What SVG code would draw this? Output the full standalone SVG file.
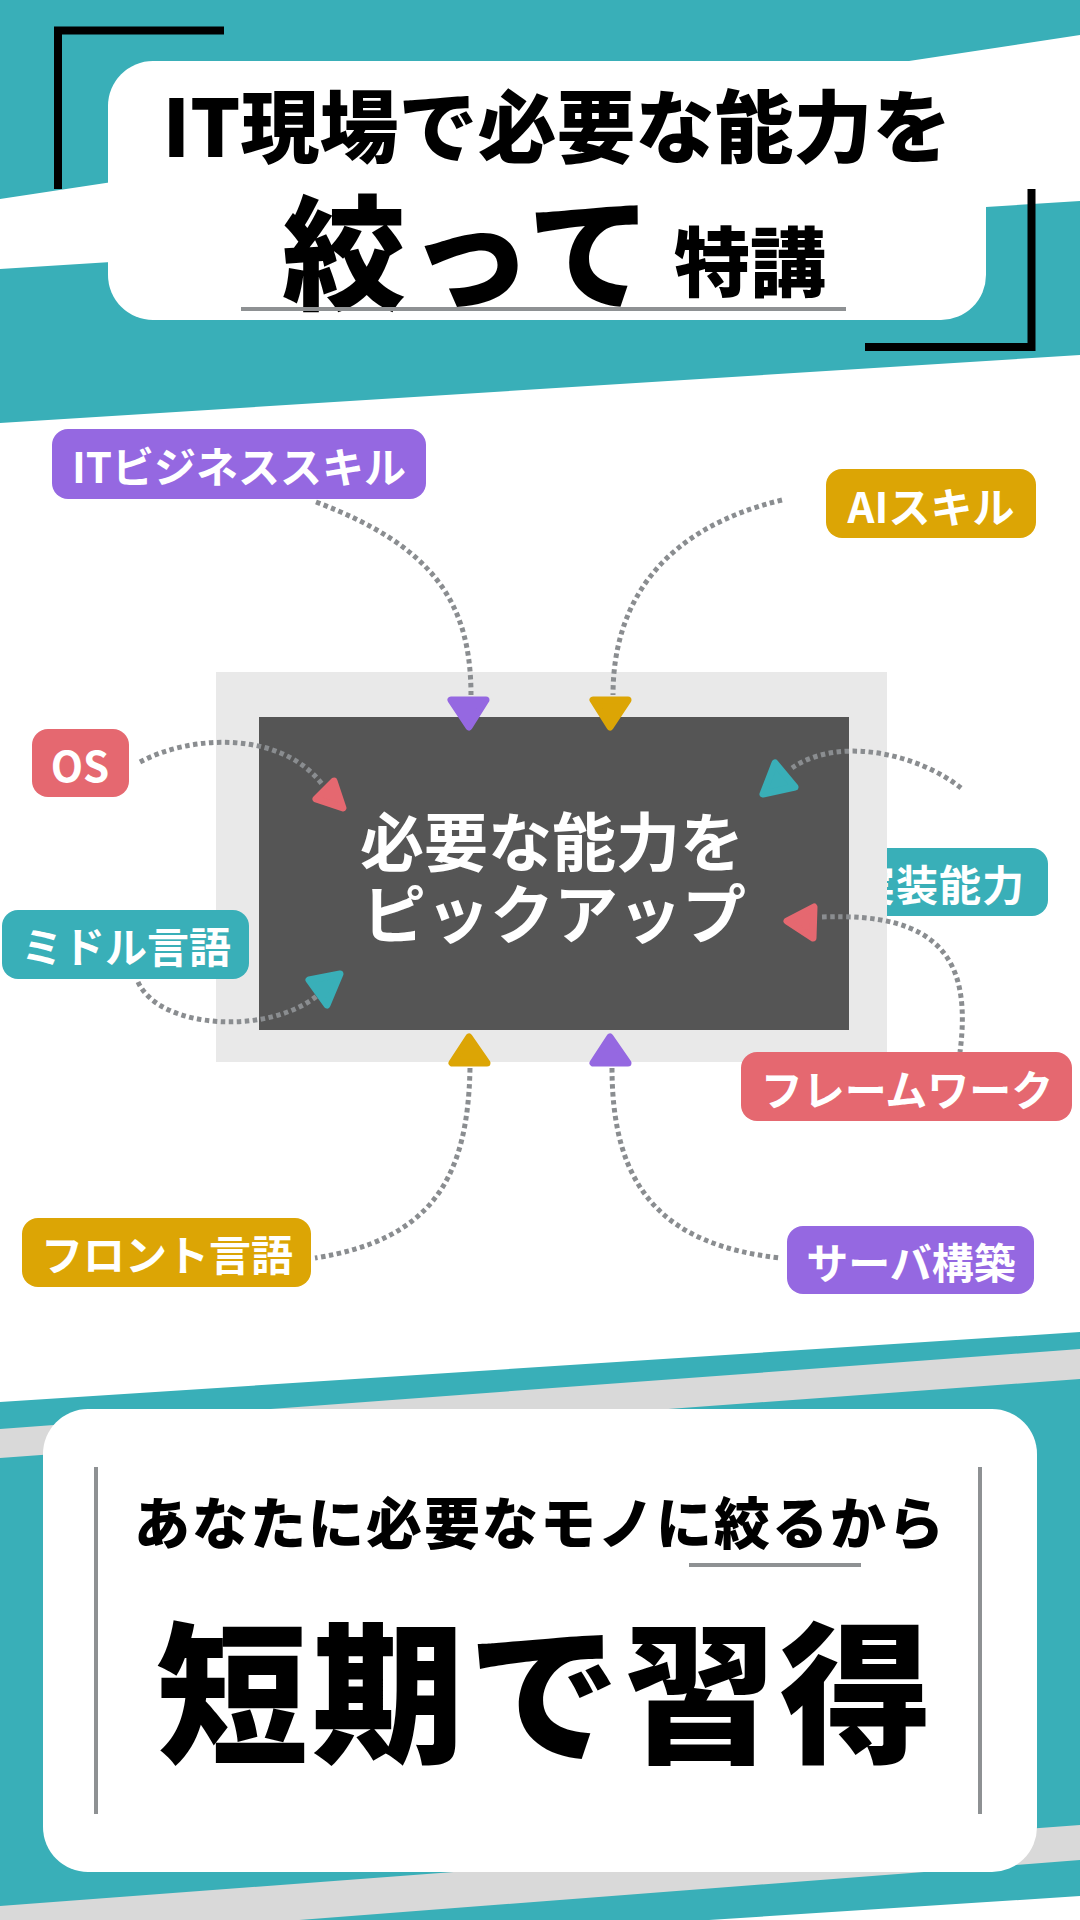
<svg xmlns="http://www.w3.org/2000/svg" width="1080" height="1920" viewBox="0 0 1080 1920">
<defs>
<style>
.teal{fill:#39AFB8}
.gray{fill:#D9D9D9}
.wt{fill:#FFFFFF}
.h{font-family:"Noto Sans CJK JP","Noto Sans",sans-serif;font-weight:900;fill:#000}
.lbl{font-family:"Noto Sans CJK JP","Noto Sans",sans-serif;font-weight:700;fill:#FFFFFF;font-size:42px;text-anchor:middle;dominant-baseline:central}
.ctr{font-family:"Noto Sans CJK JP","Noto Sans",sans-serif;font-weight:700;fill:#FFFFFF;font-size:64px;text-anchor:middle}
.con{fill:none;stroke:#8A8D90;stroke-width:5;stroke-dasharray:4.5 3.5}
.ah{stroke-width:7;stroke-linejoin:round}
.purple{fill:#9568E1;stroke:#9568E1}
.gold{fill:#DCA505;stroke:#DCA505}
.red{fill:#E56870;stroke:#E56870}
.tl{fill:#39AFB8;stroke:#39AFB8}
.rule{stroke:#8E9193;stroke-width:4}
.brk{fill:none;stroke:#000;stroke-width:8}
</style>
</defs>
<rect width="1080" height="1920" fill="#FFFFFF"/>
<!-- top background -->
<polygon class="teal" points="0,0 1080,0 1080,355 0,423"/>
<polygon class="wt" points="0,199 1080,35 1080,201 0,269"/>
<!-- bottom background -->
<polygon class="teal" points="0,1402 1080,1332 1080,1896 709,1920 0,1920"/>
<polygon class="gray" points="0,1429 1080,1349 1080,1379 0,1458"/>
<polygon class="gray" points="0,1906 1080,1825 1080,1860 0,1943"/>

<!-- title block -->
<g id="title">
<path class="brk" d="M58,189 L58,30.5 L224,30.5"/>
<path class="brk" d="M1031.5,189 L1031.5,347 L865,347"/>
<rect x="108" y="61" width="878" height="259" rx="45" fill="#FFFFFF"/>
<text class="h" x="557" y="157" font-size="79" text-anchor="middle">IT現場で必要な能力を</text>
<text class="h" x="282" y="300" font-size="124" letter-spacing="2">絞って</text>
<text class="h" x="674" y="291" font-size="76">特講</text>
<line class="rule" x1="241" y1="309" x2="846" y2="309"/>
</g>

<!-- label under frame -->
<g id="node-jisso">
<rect x="830" y="848" width="218" height="68" rx="16" fill="#39AFB8"/>
<text class="lbl" x="853" y="882" font-size="46" letter-spacing="1" style="text-anchor:start">実装能力</text>
</g>

<!-- center -->
<g id="center">
<rect x="216" y="672" width="671" height="390" fill="#E9E9E9"/>
<rect x="259" y="717" width="590" height="313" fill="#555555"/>
<text class="ctr" x="552" y="866">必要な能力を</text>
<text class="ctr" x="554" y="938">ピックアップ</text>
</g>

<!-- connectors -->
<g id="connectors">
<path class="con" d="M316,502 C430,545 471,600 471,695"/>
<path class="con" d="M782,500 C665,528 613,600 613,695"/>
<path class="con" d="M140,762 C190,735 280,730 322,784"/>
<path class="con" d="M961,788 C920,755 840,735 792,768"/>
<path class="con" d="M822,917 C940,912 972,960 960,1052"/>
<path class="con" d="M138,982 C160,1030 270,1035 318,995"/>
<path class="con" d="M470,1068 C468,1180 430,1240 315,1258"/>
<path class="con" d="M612,1068 C612,1190 665,1245 780,1258"/>
<polygon class="ah purple" points="451,700 486,700 469,727"/>
<polygon class="ah gold" points="593,700 628,700 610,727"/>
<polygon class="ah red" points="334,781 316,799 343,808"/>
<polygon class="ah tl" points="775,763 763,794 795,787"/>
<polygon class="ah red" points="787,921 814,907 813,938"/>
<polygon class="ah tl" points="309,980 340,974 327,1005"/>
<polygon class="ah gold" points="469,1037 452,1063 487,1063"/>
<polygon class="ah purple" points="610,1037 593,1063 628,1063"/>
</g>

<!-- nodes -->
<g id="node-itbiz">
<rect x="52" y="429" width="374" height="70" rx="16" fill="#9568E1"/>
<text class="lbl" x="239" y="464">ITビジネススキル</text>
</g>
<g id="node-ai">
<rect x="826" y="469" width="210" height="69" rx="16" fill="#DCA505"/>
<text class="lbl" x="931" y="504" font-size="43">AIスキル</text>
</g>
<g id="node-os">
<rect x="32" y="729" width="97" height="68" rx="16" fill="#E56870"/>
<text class="lbl" x="80" y="763" font-size="44">OS</text>
</g>
<g id="node-middle">
<rect x="2" y="910" width="247" height="69" rx="16" fill="#39AFB8"/>
<text class="lbl" x="126" y="944">ミドル言語</text>
</g>
<g id="node-framework">
<rect x="741" y="1052" width="331" height="69" rx="16" fill="#E56870"/>
<text class="lbl" x="907" y="1087">フレームワーク</text>
</g>
<g id="node-front">
<rect x="22" y="1218" width="289" height="69" rx="16" fill="#DCA505"/>
<text class="lbl" x="167" y="1252">フロント言語</text>
</g>
<g id="node-server">
<rect x="787" y="1226" width="247" height="68" rx="16" fill="#9568E1"/>
<text class="lbl" x="911" y="1260">サーバ構築</text>
</g>

<!-- bottom block -->
<g id="bottom">
<rect x="43" y="1409" width="994" height="463" rx="45" fill="#FFFFFF"/>
<line x1="96" y1="1467" x2="96" y2="1814" stroke="#8E9193" stroke-width="4"/>
<line x1="980" y1="1467" x2="980" y2="1814" stroke="#8E9193" stroke-width="4"/>
<text class="h" x="540" y="1544" font-size="56" letter-spacing="2" text-anchor="middle">あなたに必要なモノに絞るから</text>
<line class="rule" x1="689" y1="1565" x2="861" y2="1565"/>
<text class="h" x="546" y="1751" font-size="152" letter-spacing="4" text-anchor="middle">短期で習得</text>
</g>
</svg>
